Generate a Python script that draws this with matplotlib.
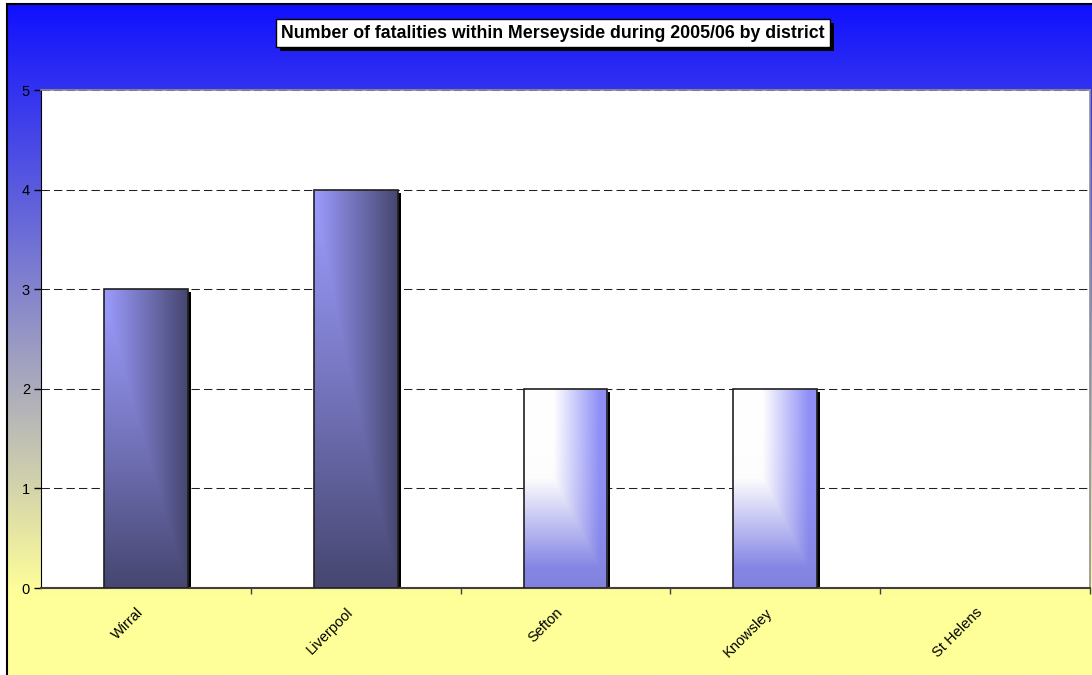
import matplotlib
matplotlib.use('Agg')
import matplotlib.pyplot as plt
import matplotlib.transforms as mtransforms
from matplotlib.patches import Rectangle
import numpy as np

# data
districts = ['Wirral', 'Liverpool', 'Sefton', 'Knowsley', 'St Helens']
fatalities = [3, 4, 2, 2, 0]
bar_look = ['dark', 'dark', 'light', 'light', 'light']
titre = 'Number of fatalities within Merseyside during 2005/06 by district'

plt.rcParams['font.family'] = ['Liberation Sans', 'DejaVu Sans']

W, H = 1092, 675
fig = plt.figure(figsize=(W / 100, H / 100), dpi=100)
fig.patch.set_facecolor('white')

# fond en degrade bleu -> jaune
bg = fig.add_axes([7 / W, 0, 1 - 7 / W, 1 - 4 / H], zorder=-5)
yy = np.linspace(0, 1, 400)
t = np.clip(yy / 0.88, 0, 1)
top = np.array([0x10, 0x10, 0xff]) / 255
bot = np.array([0xff, 0xff, 0x99]) / 255
grad = top[None, :] * (1 - t[:, None]) + bot[None, :] * t[:, None]
bg.imshow(grad[:, None, :], aspect='auto', extent=(0, 1, 0, 1), origin='upper')
bg.set_axis_off()

# cadre
fig.patches.append(Rectangle((7 / W, -0.1), 1.2, 1 - 4 / H + 0.1, transform=fig.transFigure,
                             fill=False, edgecolor='black', lw=1.5, zorder=10))

ax = fig.add_axes([41 / W, 1 - 588 / H, (1090 - 41) / W, (588 - 90) / H])
ax.set_facecolor('white')

x = np.arange(len(districts))
width = 0.4


def gradient_barre(kind, n=200):
    u = np.linspace(0, 1, n)[None, :]
    v = np.linspace(0, 1, n)[:, None]
    if kind == 'dark':
        c0 = np.array([0x9c, 0x9c, 0xff]) / 255
        c1 = np.array([0x46, 0x46, 0x70]) / 255
        tt = np.maximum(u, v ** 1.1)
    else:
        c0 = np.array([1.0, 1.0, 1.0])
        c1 = np.array([0x90, 0x90, 0xf6]) / 255
        tt = np.clip(np.maximum((u - 0.35) / 0.55, (v - 0.45) / 0.45), 0, 1)
    img = c0[None, None, :] * (1 - tt[..., None]) + c1[None, None, :] * tt[..., None]
    # un peu plus sombre en bas
    if kind == 'light':
        img = img * (1 - 0.1 * v[..., None] ** 3)
    return img


ombre = mtransforms.offset_copy(ax.transData, fig=fig, x=3, y=-3, units='dots')

for i, (xi, h) in enumerate(zip(x, fatalities)):
    if h <= 0:
        continue
    x0 = xi - width / 2
    sh = Rectangle((x0, 0), width, h, transform=ombre, facecolor='black', edgecolor='none', zorder=2)
    ax.add_patch(sh)
    im = ax.imshow(gradient_barre(bar_look[i]), extent=(x0, x0 + width, 0, h), origin='upper',
                   aspect='auto', zorder=3)
    r = Rectangle((x0, 0), width, h, facecolor='none', edgecolor='#202020', lw=1.2, zorder=4)
    ax.add_patch(r)
    im.set_clip_path(r)

ax.set_xlim(-0.5, len(districts) - 0.5)
ax.set_ylim(0, 5)

ax.set_yticks(range(6))
ax.yaxis.grid(True, color='#202020', lw=0.75, linestyle=(0, (8, 4)), zorder=0)
ax.set_axisbelow(True)
ax.tick_params(axis='y', direction='out', length=5, width=1, labelsize=10.5, pad=3, colors='black')

# ticks entre categories, labels au centre
ax.set_xticks(np.arange(len(districts)) + 0.5)
ax.set_xticklabels([])
ax.tick_params(axis='x', which='major', direction='out', length=4, width=1, color='#404040')
ax.set_xticks(x, minor=True)
ax.set_xticklabels(districts, minor=True, rotation=45, ha='right', va='center',
                   rotation_mode='anchor', fontsize=10.5)
ax.tick_params(axis='x', which='minor', length=0, pad=16)
decal_lab = mtransforms.ScaledTranslation(-5 / 100, 0, fig.dpi_scale_trans)
for lab in ax.get_xticklabels(minor=True):
    lab.set_transform(lab.get_transform() + decal_lab)

for s in ['top', 'right']:
    ax.spines[s].set_color('#909090')
    ax.spines[s].set_linewidth(1.2)
ax.spines['left'].set_color('black')
ax.spines['bottom'].set_color('#404040')
ax.spines['bottom'].set_linewidth(1.5)

# titre avec ombre
tx, ty = 553 / W, 1 - 33 / H
txt = fig.text(tx, ty, titre, ha='center', va='center', fontsize=12.8, fontweight='bold',
               color='black', zorder=7,
               bbox=dict(boxstyle='square,pad=0.3', facecolor='white', edgecolor='black', lw=1))
fig.canvas.draw()
bb = txt.get_bbox_patch().get_window_extent()
decal = mtransforms.offset_copy(fig.transFigure, fig=fig, x=4, y=-4, units='dots')
fig.patches.append(Rectangle((bb.x0 / W, bb.y0 / H), bb.width / W, bb.height / H, transform=decal,
                             facecolor='black', edgecolor='none', zorder=6))

fig.savefig('out.png', dpi=100)
